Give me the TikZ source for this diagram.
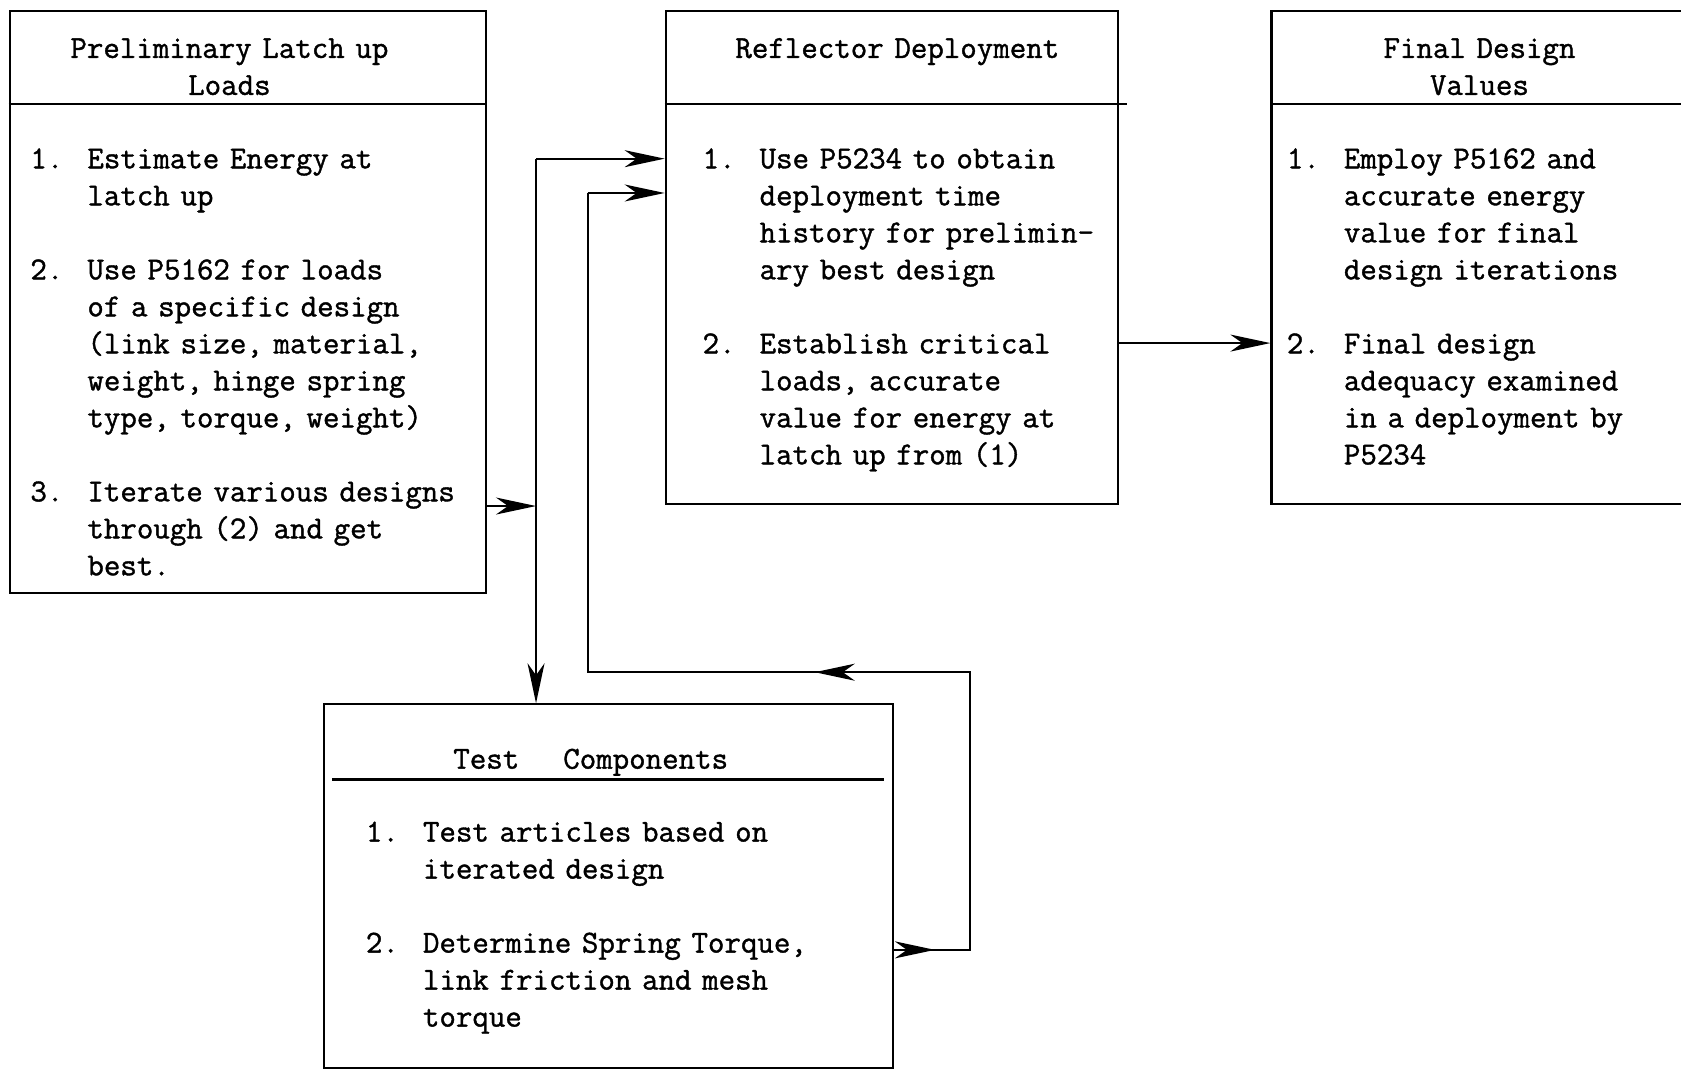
\documentclass[tikz,border=0pt]{standalone}
\usepackage{fontspec}
\newfontfamily\typer{Latin Modern Mono}[FakeBold=1.2]
\usetikzlibrary{arrows.meta,fit}

% numbered steps inside the boxes
\newlength\numw
\setlength\numw{28.5pt}
\newcommand\itemno[1]{\makebox[\numw][l]{#1}}
\newcommand\itemcont{\hspace*{\numw}}
\newcommand\itemgap{\\[18.5pt]}

\begin{document}
\begin{tikzpicture}[
    x=0.536pt, y=-0.536pt,
    font=\typer\fontsize{16}{18.5}\selectfont,
    frame/.style={draw, line width=1.1pt, inner sep=0pt},
    rule/.style={line width=1.1pt},
    title/.style={text width=230pt, align=center, anchor=base, inner sep=0pt},
    list/.style={text width=260pt, align=left, anchor=base west, inner sep=0pt},
    line/.style={line width=1pt},
    flow/.style={line width=1pt, -{Stealth[length=20pt,width=8.5pt,inset=6pt]}}
]
\useasboundingbox (0,0) rectangle (1568,998);

% boxes
\node[frame, fit={(9,10) (453,553)}] (prelim) {};
\node[frame, fit={(621,10) (1043,470)}] (deploy) {};
\node[frame, fit={(1186,10) (1582,470)}] (final) {};
\node[frame, fit={(302,657) (833,996)}] (test) {};

% header rules
\draw[rule] (prelim.west |- 0,97) -- (prelim.east |- 0,97);
\draw[rule] (deploy.west |- 0,97) -- ([xshift=4pt]deploy.east |- 0,97);
\draw[rule] (final.west |- 0,97) -- (final.east |- 0,97);
\draw[rule] (310,727) -- (825,727);

% headers
\node[title] (prelim-title) at (214,54) {Preliminary Latch up\\Loads};
\node[title] (deploy-title) at (837,54) {Reflector Deployment};
\node[title] (final-title) at (1380,54) {Final Design\\Values};
\node[title] (test-title) at (551,717) {Test\hspace{22pt}Components};

% steps
\node[list] (prelim-list) at (28,157) {%
  \itemno{1.}Estimate Energy at\\
  \itemcont latch up\itemgap
  \itemno{2.}Use P5162 for loads\\
  \itemcont of a specific design\\
  \itemcont (link size, material,\\
  \itemcont weight, hinge spring\\
  \itemcont type, torque, weight)\itemgap
  \itemno{3.}Iterate various designs\\
  \itemcont through (2) and get\\
  \itemcont best.};
\node[list] (deploy-list) at (655,157) {%
  \itemno{1.}Use P5234 to obtain\\
  \itemcont deployment time\\
  \itemcont history for prelimin-\\
  \itemcont ary best design\itemgap
  \itemno{2.}Establish critical\\
  \itemcont loads, accurate\\
  \itemcont value for energy at\\
  \itemcont latch up from (1)};
\node[list] (final-list) at (1200,157) {%
  \itemno{1.}Employ P5162 and\\
  \itemcont accurate energy\\
  \itemcont value for final\\
  \itemcont design iterations\itemgap
  \itemno{2.}Final design\\
  \itemcont adequacy examined\\
  \itemcont in a deployment by\\
  \itemcont P5234};
\node[list] (test-list) at (341,785) {%
  \itemno{1.}Test articles based on\\
  \itemcont iterated design\itemgap
  \itemno{2.}Determine Spring Torque,\\
  \itemcont link friction and mesh\\
  \itemcont torque};

% connectors
\coordinate (split) at (500,472);
\coordinate (riser) at (500,148);
\coordinate (loop-out) at (905,886);
\coordinate (loop-top) at (905,627);
\coordinate (loop-mid) at (760,627);
\coordinate (loop-back) at (548,627);
\coordinate (loop-up) at (548,180);

\draw[flow] (prelim.east |- split) -- (split);
\draw[flow] (riser) -- (riser -| deploy.west);
\draw[flow] (riser) -- (riser |- test.north);
\draw[flow] (deploy.east |- 0,320) -- (final.west |- 0,320);

\draw[line] (test.east |- loop-out) -- (loop-out) -- (loop-top) -- (loop-back) -- (loop-up);
\draw[flow] (test.east |- loop-out) -- ++(38,0);
\draw[flow] (loop-top) -- (loop-mid);
\draw[flow] (loop-up) -- (loop-up -| deploy.west);
\end{tikzpicture}
\end{document}
